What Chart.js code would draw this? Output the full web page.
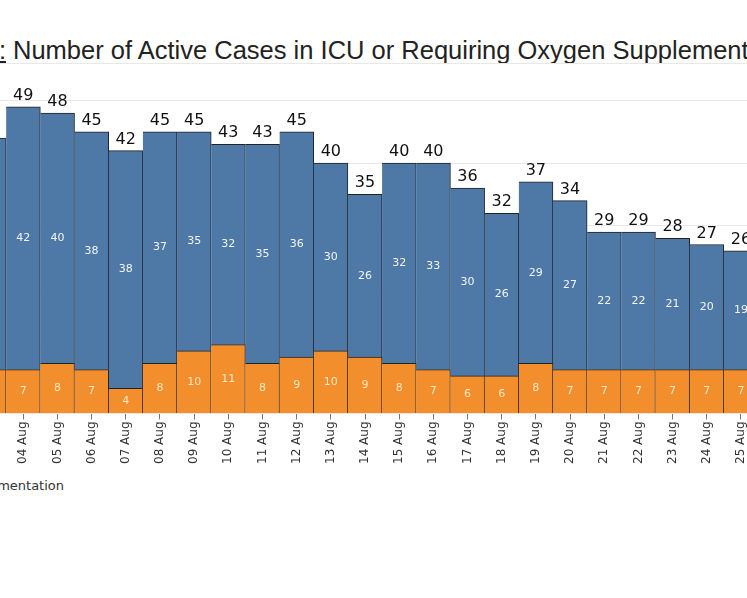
<!DOCTYPE html>
<html>
<head>
<meta charset="utf-8">
<script src="https://cdn.jsdelivr.net/npm/chart.js@4/dist/chart.umd.min.js"></script>
<style>
  body { margin: 0; background: #fff; }
  #frame { position: relative; width: 747px; height: 598px; overflow: hidden; background: #fff; }
  #title { position: absolute; left: 13px; top: 35px; line-height: 30px; white-space: nowrap;
           font-family: "Liberation Sans", Arial, sans-serif; font-size: 25.5px; color: #222; }
  #title .pre { position: absolute; right: 100%; padding-right: 7px; text-decoration: underline; }
  #chartBox { position: absolute; left: -40px; top: 0; width: 810px; height: 466px; }
  #legend { position: absolute; right: 683px; top: 478px; white-space: nowrap;
            font-family: "DejaVu Sans", sans-serif; font-size: 13px; color: #333; }
  #legend span.sw { display: inline-block; width: 11px; height: 11px; margin: 0 5px 0 14px; vertical-align: -1px; }
</style>
</head>
<body>
<div id="frame">
  <div id="title"><span class="pre">Figure 2:</span>Number of Active Cases in ICU or Requiring Oxygen Supplementation</div>
  <div id="chartBox"><canvas id="icuChart"></canvas></div>
  <div id="legend"><span class="sw" style="background:#f28e2b"></span>In ICU<span class="sw" style="background:#4e79a7"></span>Requiring Oxygen Supplementation</div>
</div>
<script>
// daily counts
const dates = ['03 Aug','04 Aug','05 Aug','06 Aug','07 Aug','08 Aug','09 Aug','10 Aug','11 Aug','12 Aug','13 Aug','14 Aug',
               '15 Aug','16 Aug','17 Aug','18 Aug','19 Aug','20 Aug','21 Aug','22 Aug','23 Aug','24 Aug','25 Aug'];
const inIcu = [7, 7, 8, 7, 4, 8, 10, 11, 8, 9, 10, 9, 8, 7, 6, 6, 8, 7, 7, 7, 7, 7, 7];
const oxygen = [37, 42, 40, 38, 38, 37, 35, 32, 35, 36, 30, 26, 32, 33, 30, 26, 29, 27, 22, 22, 21, 20, 19];

// value labels inside each segment + total on top
const barLabels = {
  id: 'barLabels',
  afterDatasetsDraw(chart) {
    const c = chart.ctx;
    c.save();
    c.textAlign = 'center';
    c.textBaseline = 'middle';
    c.font = '11px "DejaVu Sans", sans-serif';
    chart.data.datasets.forEach((ds, i) => {
      c.fillStyle = i === 0 ? 'rgba(255,236,205,0.95)' : 'rgba(255,255,255,0.92)';
      chart.getDatasetMeta(i).data.forEach((bar, j) => {
        c.fillText(ds.data[j], bar.x, (bar.y + bar.base) / 2);
      });
    });
    c.font = '16px "DejaVu Sans", sans-serif';
    c.fillStyle = '#111';
    c.textBaseline = 'alphabetic';
    const top = chart.getDatasetMeta(1).data;
    top.forEach((bar, j) => {
      c.fillText(inIcu[j] + oxygen[j], bar.x, bar.y - 7);
    });
    c.restore();
  }
};

const ctx = document.getElementById('icuChart');
new Chart(ctx, {
  type: 'bar',
  data: {
    labels: dates,
    datasets: [
      {
        label: 'In ICU',
        data: inIcu,
        backgroundColor: '#f28e2b',
        borderColor: '#222',
        borderWidth: { top: 1, right: 1, left: 0, bottom: 0 },
        borderSkipped: false,
        barPercentage: 1,
        categoryPercentage: 1
      },
      {
        label: 'Requiring Oxygen Supplementation',
        data: oxygen,
        backgroundColor: '#4e79a7',
        borderColor: '#222',
        borderWidth: { top: 1, right: 1, left: 0, bottom: 0 },
        borderSkipped: false,
        barPercentage: 1,
        categoryPercentage: 1
      }
    ]
  },
  options: {
    responsive: true,
    maintainAspectRatio: false,
    animation: false,
    layout: { padding: { top: 63, left: 12, right: 12, bottom: 0 } },
    plugins: {
      legend: { display: false },
      title: { display: false },
      tooltip: { enabled: false }
    },
    scales: {
      x: {
        stacked: true,
        border: { display: false },
        grid: { offset: false, drawOnChartArea: false, drawTicks: true, tickLength: 6, color: '#777' },
        ticks: {
          minRotation: 90, maxRotation: 90, padding: 2,
          color: '#333',
          font: { family: '"DejaVu Sans", sans-serif', size: 12 }
        }
      },
      y: {
        stacked: true,
        min: 0,
        max: 56,
        border: { display: false },
        grid: { color: '#e8e8e8', drawTicks: false },
        ticks: { display: false, stepSize: 10 }
      }
    }
  },
  plugins: [barLabels]
});
</script>
</body>
</html>
